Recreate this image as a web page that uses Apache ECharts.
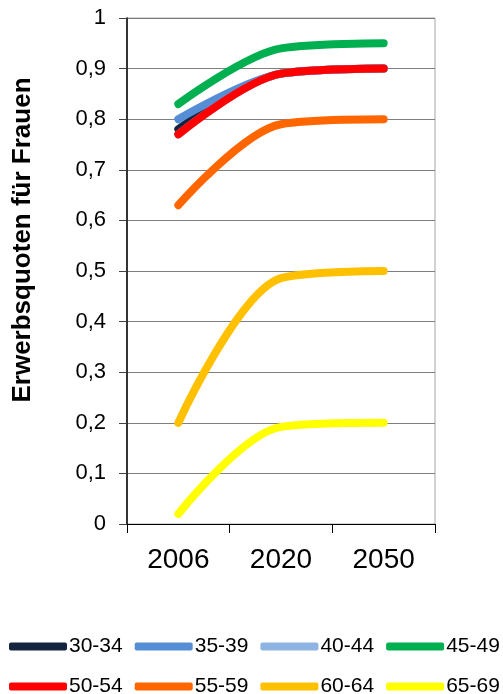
<!DOCTYPE html>
<html>
<head>
<meta charset="utf-8">
<script src="https://cdn.jsdelivr.net/npm/echarts@6/dist/echarts.min.js"></script>
<style>
html,body{margin:0;padding:0;background:#fff;}
#main{width:503px;height:694px;}
</style>
</head>
<body>
<div id="main"></div>
<script>
var categories = ['2006', '2020', '2050'];
var seriesNames = ['30-34', '35-39', '40-44', '45-49', '50-54', '55-59', '60-64', '65-69'];
var v3034 = [0.78, 0.89, 0.90];
var v3539 = [0.80, 0.89, 0.90];
var v4044 = [0.77, 0.89, 0.90];
var v4549 = [0.83, 0.94, 0.95];
var v5054 = [0.77, 0.89, 0.90];
var v5559 = [0.63, 0.79, 0.80];
var v6064 = [0.20, 0.486, 0.50];
var v6569 = [0.02, 0.192, 0.20];
var yTitle = 'Erwerbsquoten für Frauen';

var values = [v3034, v3539, v4044, v4549, v5054, v5559, v6064, v6569];
var colors = ['#14243F', '#558ED5', '#8DB4E2', '#00B050', '#FF0000', '#FF6600', '#FFC000', '#FFFF00'];
var FONT = '"Liberation Sans", Arial, sans-serif';

var chart = echarts.init(document.getElementById('main'), null, {renderer: 'canvas'});

var series = seriesNames.map(function (n, i) {
  return {
    name: n,
    type: 'line',
    data: values[i],
    smooth: 0.32,
    showSymbol: false,
    symbol: 'none',
    color: colors[i],
    lineStyle: {width: 8, color: colors[i], cap: 'round', join: 'round'},
    itemStyle: {color: colors[i]},
    emphasis: {disabled: true},
    z: 2 + i
  };
});

var legendCommon = {
  left: 9,
  width: 494,
  padding: 0,
  orient: 'horizontal',
  itemWidth: 58,
  itemHeight: 8,
  itemGap: 12,
  icon: 'roundRect',
  selectedMode: false,
  textStyle: {fontSize: 21, color: '#000', fontFamily: FONT, padding: [0, 0, 0, -3]}
};

chart.setOption({
  animation: false,
  backgroundColor: '#fff',
  grid: {left: 127, right: 68, top: 18, bottom: 170, show: true, borderColor: '#a6a6a6', borderWidth: 1, containLabel: false},
  legend: [
    Object.assign({}, legendCommon, {top: 636, data: seriesNames.slice(0, 4)}),
    Object.assign({}, legendCommon, {top: 676, data: seriesNames.slice(4, 8)})
  ],
  xAxis: {
    type: 'category',
    data: categories,
    boundaryGap: true,
    axisLine: {show: true, lineStyle: {color: '#000', width: 1}},
    axisTick: {show: true, length: 9, inside: false, lineStyle: {color: '#000'}},
    axisLabel: {fontSize: 28, color: '#000', fontFamily: FONT, margin: 22},
    splitLine: {show: false}
  },
  yAxis: {
    type: 'value',
    min: 0,
    max: 1,
    interval: 0.1,
    axisLine: {show: true, lineStyle: {color: '#000', width: 1.5}},
    axisTick: {show: true, length: 8, lineStyle: {color: '#404040'}},
    axisLabel: {
      fontSize: 22, color: '#000', fontFamily: FONT, margin: 21,
      formatter: function (v) { return String(Math.round(v * 10) / 10).replace('.', ','); }
    },
    splitLine: {show: true, lineStyle: {color: '#7f7f7f', width: 1}}
  },
  graphic: [{
    type: 'text',
    x: 23,
    y: 240,
    rotation: Math.PI / 2,
    style: {
      text: yTitle,
      font: 'bold 26px ' + FONT,
      fill: '#000',
      align: 'center',
      verticalAlign: 'middle'
    }
  }],
  series: series
});
</script>
</body>
</html>
